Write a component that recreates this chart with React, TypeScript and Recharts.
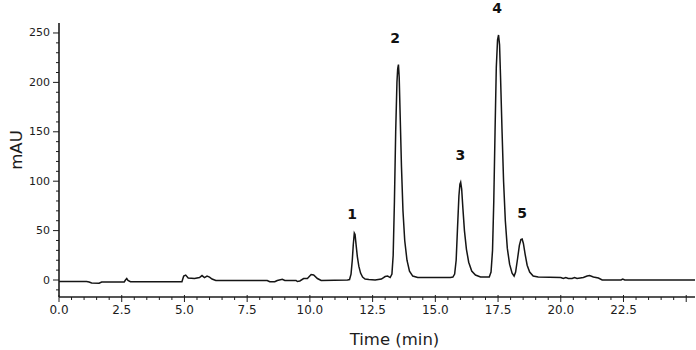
import { LineChart, Line, XAxis, YAxis, ReferenceDot } from 'recharts';

// retention time (min) and detector signal (mAU)
const retentionTime = [
  // baseline before the peaks
  0, 1.1, 1.2, 1.3, 1.6, 1.7, 2.6, 2.65, 2.7, 2.75,
  2.85, 4.9, 4.97, 5.05, 5.15, 5.4, 5.6, 5.7, 5.8, 5.9,
  6.0, 6.1, 6.25, 8.3, 8.4, 8.6, 8.7, 8.9, 9.0, 9.45,
  9.5, 9.6, 9.75, 9.9, 10.05, 10.15, 10.3, 10.45, 11.5,
  // peak 1
  11.58, 11.64, 11.69, 11.73, 11.77, 11.8, 11.84, 11.89, 11.95, 12.02,
  12.1, 12.2, 12.35, 12.6, 12.85, 13.0, 13.1, 13.2,
  // peak 2
  13.27, 13.32, 13.37, 13.42, 13.47, 13.5, 13.53, 13.56, 13.6, 13.65,
  13.71, 13.78, 13.87, 13.97, 14.1, 14.3, 15.6,
  // peak 3
  15.7, 15.77, 15.83, 15.88, 15.94, 15.98, 16.01, 16.05, 16.1, 16.16,
  16.24, 16.33, 16.45, 16.6, 16.8, 17.15,
  // peaks 4 and 5
  17.22, 17.28, 17.33, 17.38, 17.43, 17.48, 17.52, 17.56, 17.6, 17.66,
  17.72, 17.79, 17.87, 17.96, 18.06, 18.14, 18.2, 18.28, 18.35, 18.41,
  18.46, 18.51, 18.58, 18.66, 18.76, 18.9, 19.1,
  // tail
  20.0, 20.1, 20.2, 20.3, 20.45, 20.55, 20.65, 20.9, 21.05, 21.15,
  21.3, 21.5, 21.65, 22.4, 22.47, 22.55, 25.35
];

const absorbance = [
  -1.5, -1.5, -2, -3, -3.3, -2, -2, 0, 1.5, -0.5,
  -1.8, -1.8, 4, 5, 2, 1.5, 2.5, 4.5, 2.5, 4,
  3, 1, -0.5, -0.5, -1.8, -1.8, -0.5, 0.8, -0.5, -0.5,
  -1.5, -1, 1.5, 1.5, 5.5, 5, 1.5, -0.5, 0,
  0.5, 6, 20, 36, 47.5, 46, 36, 24, 14, 7,
  3, 1, 0.5, 0, 1, 3.5, 4, 2.5,
  6, 25, 80, 150, 200, 214, 218, 205, 165, 115,
  70, 40, 20, 9, 4, 2.5, 2.5,
  3, 6, 20, 50, 85, 97, 99, 92, 72, 50,
  31, 18, 9, 5, 3, 3,
  8, 30, 80, 150, 215, 243, 248, 238, 205, 150,
  100, 60, 32, 16, 7, 4, 8, 22, 35, 41,
  41.5, 37, 26, 15, 8, 4, 3,
  2.5, 1.5, 2.5, 1.5, 1.5, 2.5, 1.5, 2.5, 4, 4.5,
  3, 2, 0, 0, 1, 0, 0
];

const peakNames = ['1', '2', '3', '4', '5'];
const peakLabelTime = [11.68, 13.4, 16.0, 17.46, 18.46];
const peakLabelLevel = [66.8, 245, 126.5, 274.8, 67.8];

const xLabels = [0, 2.5, 5, 7.5, 10, 12.5, 15, 17.5, 20, 22.5];
const yLabels = [0, 50, 100, 150, 200, 250];

const xTicks = Array.from({ length: 51 }, (_, i) => i * 0.5);
const yTicks = Array.from({ length: 27 }, (_, i) => i * 10 - 10);

const data = retentionTime.map((t, i) => ({ t, v: absorbance[i] }));

const INK = '#1c1c1c';

const XTick = ({ x, y, payload }: any) => {
  const v = payload.value;
  const major = Math.abs(v / 2.5 - Math.round(v / 2.5)) < 1e-6;
  const labelled = xLabels.includes(v);
  return (
    <g>
      <line x1={x} x2={x} y1={major ? y - 2 : y} y2={y + (major ? 5 : 3)} stroke={INK} />
      {labelled && (
        <text x={x} y={y + 13} textAnchor="middle" dominantBaseline="central" fontSize={12} fill={INK}>
          {v.toFixed(1)}
        </text>
      )}
    </g>
  );
};

const YTick = ({ x, y, payload }: any) => {
  const v = payload.value;
  const major = yLabels.includes(v);
  return (
    <g>
      <line x1={x - (major ? 6 : 3)} x2={x} y1={y} y2={y} stroke={INK} />
      {major && (
        <text x={x - 9} y={y} textAnchor="end" dominantBaseline="central" fontSize={11} fill={INK}>
          {v}
        </text>
      )}
    </g>
  );
};

export default function App() {
  return (
    <div style={{ position: 'absolute', left: 0, top: 0, background: '#fff' }}>
      <LineChart
        width={696}
        height={350}
        data={data}
        margin={{ top: 23, right: 1, bottom: 0, left: 0 }}
        style={{ fontFamily: 'DejaVu Sans' }}
      >
        <XAxis
          dataKey="t"
          type="number"
          domain={[0, 25.35]}
          ticks={xTicks}
          interval={0}
          tick={<XTick />}
          tickLine={false}
          tickSize={0}
          tickMargin={0}
          height={53}
          allowDataOverflow
          axisLine={{ stroke: INK, strokeWidth: 1.6 }}
        />
        <YAxis
          type="number"
          domain={[-17.2, 260.1]}
          ticks={yTicks}
          interval={0}
          tick={<YTick />}
          tickLine={false}
          tickSize={0}
          tickMargin={0}
          width={59}
          allowDataOverflow
          axisLine={{ stroke: INK, strokeWidth: 1.6 }}
        />
        <Line
          dataKey="v"
          type="linear"
          stroke="#151515"
          strokeWidth={1.5}
          dot={false}
          isAnimationActive={false}
        />
        {peakNames.map((name, i) => (
          <ReferenceDot
            key={name}
            x={peakLabelTime[i]}
            y={peakLabelLevel[i]}
            r={0}
            ifOverflow="visible"
            shape={(p: any) => (
              <text
                x={p.cx}
                y={p.cy}
                textAnchor="middle"
                dominantBaseline="central"
                fontSize={14}
                fontWeight="bold"
                fill="#111"
              >
                {name}
              </text>
            )}
          />
        ))}
        <text
          x={16}
          y={150}
          transform="rotate(-90, 16, 150)"
          textAnchor="middle"
          dominantBaseline="central"
          fontSize={16.5}
          fill={INK}
        >
          mAU
        </text>
        <text x={394.5} y={345} textAnchor="middle" fontSize={16.5} fill={INK}>
          Time (min)
        </text>
      </LineChart>
    </div>
  );
}
